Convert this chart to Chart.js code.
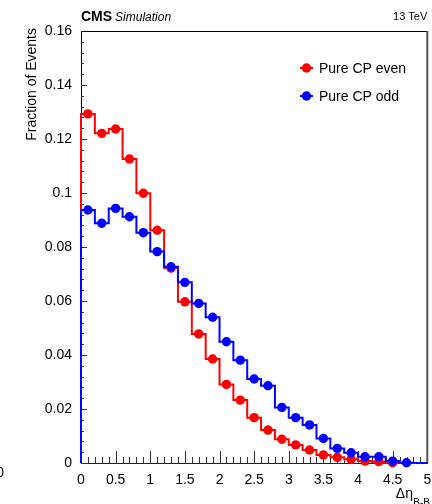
<!DOCTYPE html>
<html>

<head>
    <meta charset="utf-8">
    <script src="https://cdn.jsdelivr.net/npm/chart.js"></script>
    <title>CP even vs odd</title>
    <style>
        html, body {
            margin: 0;
            padding: 0;
            background: #fff;
        }

        #wrap {
            width: 432px;
            height: 504px;
        }
    </style>
</head>

<body>
    <div id="wrap">
        <canvas id="chart" width="432" height="504"></canvas>
    </div>
    <script>
        // bin centres of the delta-eta histogram (bin width 0.2)
        const binCenters = [0.1, 0.3, 0.5, 0.7, 0.9, 1.1, 1.3, 1.5, 1.7, 1.9, 2.1, 2.3, 2.5, 2.7, 2.9,
            3.1, 3.3, 3.5, 3.7, 3.9, 4.1, 4.3, 4.5, 4.7, 4.9]
        const binWidth = 0.2

        const cpEven = [0.1293, 0.1221, 0.1237, 0.1126, 0.0999, 0.0862, 0.0722, 0.0597, 0.0478, 0.0385,
            0.0291, 0.0233, 0.0168, 0.0122, 0.0088, 0.0067, 0.0048, 0.0030, 0.0021, 0.0014,
            0.0007, 0.0005, 0.0001, 0, 0]
        const cpOdd = [0.0937, 0.0888, 0.0943, 0.0912, 0.0853, 0.0783, 0.0727, 0.0669, 0.0591, 0.0540,
            0.0449, 0.0381, 0.0311, 0.0286, 0.0206, 0.0168, 0.0141, 0.0091, 0.0054, 0.0038,
            0.0023, 0.0023, 0.0007, 0.0001, 0]

        const xTickValues = [0, 0.5, 1, 1.5, 2, 2.5, 3, 3.5, 4, 4.5, 5]
        const yTickValues = [0, 0.02, 0.04, 0.06, 0.08, 0.1, 0.12, 0.14, 0.16]
        const seriesLabels = ['Pure CP even', 'Pure CP odd']
        const seriesColors = ['#ff0000', '#0000ff']

        const FONT = '"Liberation Sans", Arial, Helvetica, sans-serif'

        // histogram outline: (lo, v) -> (hi, v) for every bin
        function outline(values) {
            const pts = [{ x: binCenters[0] - binWidth / 2, y: 0 }]
            values.forEach(function (v, i) {
                pts.push({ x: binCenters[i] - binWidth / 2, y: v })
                pts.push({ x: binCenters[i] + binWidth / 2, y: v })
            })
            pts.push({ x: binCenters[binCenters.length - 1] + binWidth / 2, y: 0 })
            return pts
        }

        function markers(values) {
            return values.map(function (v, i) {
                return { x: binCenters[i], y: v > 0 ? v : null }
            })
        }

        function fmt(v) {
            return String(+v.toFixed(3))
        }

        const rootStyle = {
            id: 'rootStyle',
            beforeDatasetsDraw(chart) {
                const ctx = chart.ctx
                const a = chart.chartArea
                const xs = chart.scales.x
                const ys = chart.scales.y
                ctx.save()
                ctx.strokeStyle = '#333'
                ctx.lineWidth = 1
                ctx.beginPath()
                // x ticks, inside the frame
                for (let k = 0; k <= 50; k++) {
                    const px = Math.round(xs.getPixelForValue(k / 10)) + 0.5
                    const len = k % 5 === 0 ? 12 : 6
                    ctx.moveTo(px, a.bottom)
                    ctx.lineTo(px, a.bottom - len)
                }
                // y ticks
                for (let k = 0; k <= 40; k++) {
                    const py = Math.round(ys.getPixelForValue(k * 0.004)) + 0.5
                    const len = k % 5 === 0 ? 6 : 3
                    ctx.moveTo(a.left, py)
                    ctx.lineTo(a.left + len, py)
                }
                ctx.stroke()
                // frame
                ctx.strokeStyle = '#000'
                ctx.beginPath()
                ctx.moveTo(a.left, a.top + 0.5)
                ctx.lineTo(a.right, a.top + 0.5)
                ctx.stroke()
                ctx.strokeStyle = '#555'
                ctx.lineWidth = 2
                ctx.beginPath()
                ctx.moveTo(a.right, a.top)
                ctx.lineTo(a.right, a.bottom)
                ctx.stroke()
                ctx.restore()
            },
            afterDraw(chart) {
                const ctx = chart.ctx
                const a = chart.chartArea
                ctx.save()
                ctx.fillStyle = '#000'
                ctx.textBaseline = 'alphabetic'

                // header
                ctx.font = 'bold 14px ' + FONT
                ctx.textAlign = 'left'
                ctx.fillText('CMS', a.left, 21)
                const w = ctx.measureText('CMS').width
                ctx.font = 'italic 12px ' + FONT
                ctx.fillText('Simulation', a.left + w + 3, 21)
                ctx.font = '11px ' + FONT
                ctx.textAlign = 'right'
                ctx.fillText('13 TeV', a.right, 20)

                // y title
                ctx.save()
                ctx.translate(36, 28)
                ctx.rotate(-Math.PI / 2)
                ctx.font = '14px ' + FONT
                ctx.textAlign = 'right'
                ctx.fillText('Fraction of Events', 0, 0)
                ctx.restore()

                // x title
                ctx.textAlign = 'right'
                ctx.font = '10px ' + FONT
                ctx.fillText('B-B', 430, 506)
                ctx.font = '14px ' + FONT
                ctx.fillText('\u0394\u03b7', 413, 498)

                // stray label at the left edge
                ctx.font = '14px ' + FONT
                ctx.fillText('0', 4, 477)

                // legend
                const rows = [68, 96]
                seriesLabels.forEach(function (lab, i) {
                    const y = rows[i]
                    ctx.strokeStyle = seriesColors[i]
                    ctx.fillStyle = seriesColors[i]
                    ctx.lineWidth = 2
                    ctx.beginPath()
                    ctx.moveTo(300, y)
                    ctx.lineTo(313, y)
                    ctx.stroke()
                    ctx.beginPath()
                    ctx.arc(306.5, y, 4.7, 0, Math.PI * 2)
                    ctx.fill()
                    ctx.fillStyle = '#000'
                    ctx.textAlign = 'left'
                    ctx.textBaseline = 'middle'
                    ctx.font = '14px ' + FONT
                    ctx.fillText(lab, 319, y + 1)
                })
                ctx.restore()
            }
        }

        const ctx = document.getElementById('chart')
        new Chart(ctx, {
            data: {
                datasets: [{
                    type: 'scatter',
                    label: seriesLabels[1],
                    data: markers(cpOdd),
                    backgroundColor: seriesColors[1],
                    borderWidth: 0,
                    pointRadius: 4.7,
                    order: 0,
                    clip: 6
                }, {
                    type: 'line',
                    label: seriesLabels[1] + ' hist',
                    data: outline(cpOdd),
                    borderColor: seriesColors[1],
                    borderWidth: 2,
                    pointRadius: 0,
                    tension: 0,
                    order: 1,
                    clip: 4
                }, {
                    type: 'scatter',
                    label: seriesLabels[0],
                    data: markers(cpEven),
                    backgroundColor: seriesColors[0],
                    borderWidth: 0,
                    pointRadius: 4.7,
                    order: 2,
                    clip: 6
                }, {
                    type: 'line',
                    label: seriesLabels[0] + ' hist',
                    data: outline(cpEven),
                    borderColor: seriesColors[0],
                    borderWidth: 2,
                    pointRadius: 0,
                    tension: 0,
                    order: 3,
                    clip: 4
                }]
            },
            options: {
                responsive: false,
                animation: false,
                devicePixelRatio: 1,
                layout: {
                    padding: { top: 31, right: 4, left: 0, bottom: 0 }
                },
                plugins: {
                    legend: { display: false },
                    tooltip: { enabled: false }
                },
                scales: {
                    x: {
                        type: 'linear',
                        min: 0,
                        max: 5,
                        afterBuildTicks: function (s) {
                            s.ticks = xTickValues.map(v => ({ value: v }))
                        },
                        afterFit: function (s) {
                            s.height = 41
                            s.paddingLeft = 0
                            s.paddingRight = 0
                        },
                        grid: { display: false, drawTicks: false },
                        border: { display: true, color: '#222', width: 1 },
                        ticks: {
                            autoSkip: false,
                            maxRotation: 0,
                            padding: 9,
                            color: '#000',
                            font: { family: FONT, size: 14 },
                            callback: fmt
                        }
                    },
                    y: {
                        type: 'linear',
                        min: 0,
                        max: 0.16,
                        afterBuildTicks: function (s) {
                            s.ticks = yTickValues.map(v => ({ value: v }))
                        },
                        afterFit: function (s) {
                            s.width = 81
                            s.paddingTop = 0
                            s.paddingBottom = 0
                        },
                        grid: { display: false, drawTicks: false },
                        border: { display: true, color: '#000', width: 1 },
                        ticks: {
                            autoSkip: false,
                            padding: 9,
                            color: '#000',
                            font: { family: FONT, size: 14 },
                            callback: fmt
                        }
                    }
                }
            },
            plugins: [rootStyle]
        })
    </script>
</body>

</html>
